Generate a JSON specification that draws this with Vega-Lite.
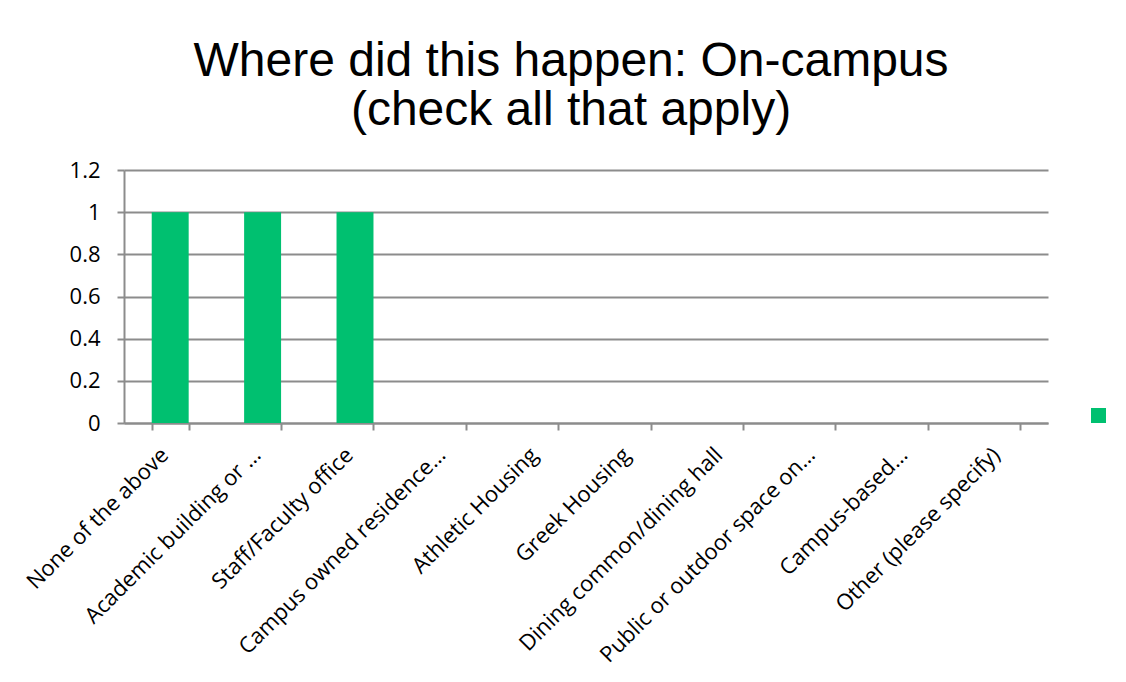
{
  "$schema": "https://vega.github.io/schema/vega-lite/v6.json",
  "width": 924,
  "height": 253,
  "autosize": {"type": "none"},
  "padding": {"left": 124, "top": 170, "right": 78, "bottom": 259},
  "background": "white",
  "title": {
    "text": ["Where did this happen: On-campus", "(check all that apply)"],
    "font": "Liberation Sans",
    "fontSize": 48,
    "fontWeight": "normal",
    "color": "black",
    "anchor": "middle",
    "frame": "group",
    "lineHeight": 49,
    "offset": 24,
    "dx": -15
  },
  "data": {
    "values": [
      {"location": "None of the above", "count": 1, "series": "s"},
      {"location": "Academic building or …", "count": 1, "series": "s"},
      {"location": "Staff/Faculty office", "count": 1, "series": "s"},
      {"location": "Campus owned residence…", "count": 0, "series": "s"},
      {"location": "Athletic Housing", "count": 0, "series": "s"},
      {"location": "Greek Housing", "count": 0, "series": "s"},
      {"location": "Dining common/dining hall", "count": 0, "series": "s"},
      {"location": "Public or outdoor space on…", "count": 0, "series": "s"},
      {"location": "Campus-based…", "count": 0, "series": "s"},
      {"location": "Other (please specify)", "count": 0, "series": "s"}
    ]
  },
  "mark": {"type": "bar"},
  "encoding": {
    "x": {
      "field": "location",
      "type": "nominal",
      "sort": null,
      "scale": {"paddingInner": 0.6, "paddingOuter": 0.3},
      "axis": {
        "title": null,
        "labelAngle": -45,
        "labelAlign": "right",
        "labelBaseline": "middle",
        "labelFont": "Open Sans",
        "labelFontSize": 22,
        "labelColor": "black",
        "labelPadding": 21,
        "labelOffset": -6,
        "labelLimit": 400,
        "tickBand": "extent",
        "tickSize": 7,
        "tickColor": "#8c8c8c",
        "tickWidth": 2,
        "domainColor": "#8c8c8c",
        "domainWidth": 2
      }
    },
    "y": {
      "field": "count",
      "type": "quantitative",
      "scale": {"domain": [0, 1.2]},
      "axis": {
        "title": null,
        "values": [0, 0.2, 0.4, 0.6, 0.8, 1, 1.2],
        "format": "~g",
        "labelFont": "Open Sans",
        "labelFontSize": 22,
        "labelColor": "black",
        "labelPadding": 17,
        "tickSize": 7,
        "tickColor": "#8c8c8c",
        "tickWidth": 2,
        "domainColor": "#8c8c8c",
        "domainWidth": 2,
        "grid": true,
        "gridColor": "#8c8c8c",
        "gridWidth": 2
      }
    },
    "color": {
      "field": "series",
      "type": "nominal",
      "scale": {"range": ["#00C070"]},
      "legend": {
        "title": null,
        "orient": "none",
        "legendX": 967,
        "legendY": 238,
        "symbolType": "square",
        "symbolSize": 225,
        "symbolStrokeWidth": 0,
        "labelExpr": "''",
        "padding": 0
      }
    }
  },
  "config": {"view": {"stroke": null}}
}
